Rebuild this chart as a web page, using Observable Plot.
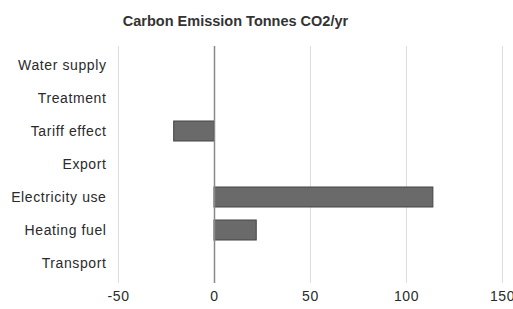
<!DOCTYPE html>
<html>
<head>
<meta charset="utf-8">
<script src="https://cdn.jsdelivr.net/npm/d3@7"></script>
<script src="https://cdn.jsdelivr.net/npm/@observablehq/plot@0.6"></script>
<style>
  body { margin: 0; background: #fff; }
  svg { font-family: "Liberation Sans", Arial, sans-serif; }
  svg g[aria-label="y-axis tick label"] text, svg g[aria-label="x-axis tick label"] text { letter-spacing: 0.6px; }
</style>
</head>
<body>
<div id="chart"></div>
<script>
const title = "Carbon Emission Tonnes CO2/yr";
const categories = ["Water supply", "Treatment", "Tariff effect", "Export", "Electricity use", "Heating fuel", "Transport"];
const values = [0, 0, -21, 0, 114, 22, 0];
const xTicks = [-50, 0, 50, 100, 150];

const data = categories.map((c, i) => ({category: c, value: values[i]}));
const bars = data.filter(d => d.value !== 0);

const plot = Plot.plot({
  width: 513,
  height: 309,
  marginTop: 46,
  marginBottom: 26,
  marginLeft: 118,
  marginRight: 11,
  style: {fontSize: "14px", color: "#2a2a2a", background: "#fff"},
  x: {domain: [-50, 150], ticks: xTicks, tickFormat: d => String(d), tickSize: 0, tickPadding: 8, label: null},
  y: {domain: categories, padding: 0.38, paddingOuter: 0.2, tickSize: 0, tickPadding: 12, label: null},
  marks: [
    Plot.ruleX(xTicks, {stroke: "#ddd", strokeWidth: 1}),
    Plot.barX(bars, {y: "category", x: "value", fill: "#6a6a6a", stroke: "#444", strokeWidth: 1}),
    Plot.ruleX([0], {stroke: "#888", strokeWidth: 1.5}),
    Plot.text([title], {frameAnchor: "top", text: d => d, dx: 235 - (118 + (513 - 11 - 118) / 2), dy: -31, fontWeight: "bold", fontSize: 14.5, letterSpacing: 0.4, fill: "#333"})
  ]
});
document.getElementById("chart").appendChild(plot);
</script>
</body>
</html>
